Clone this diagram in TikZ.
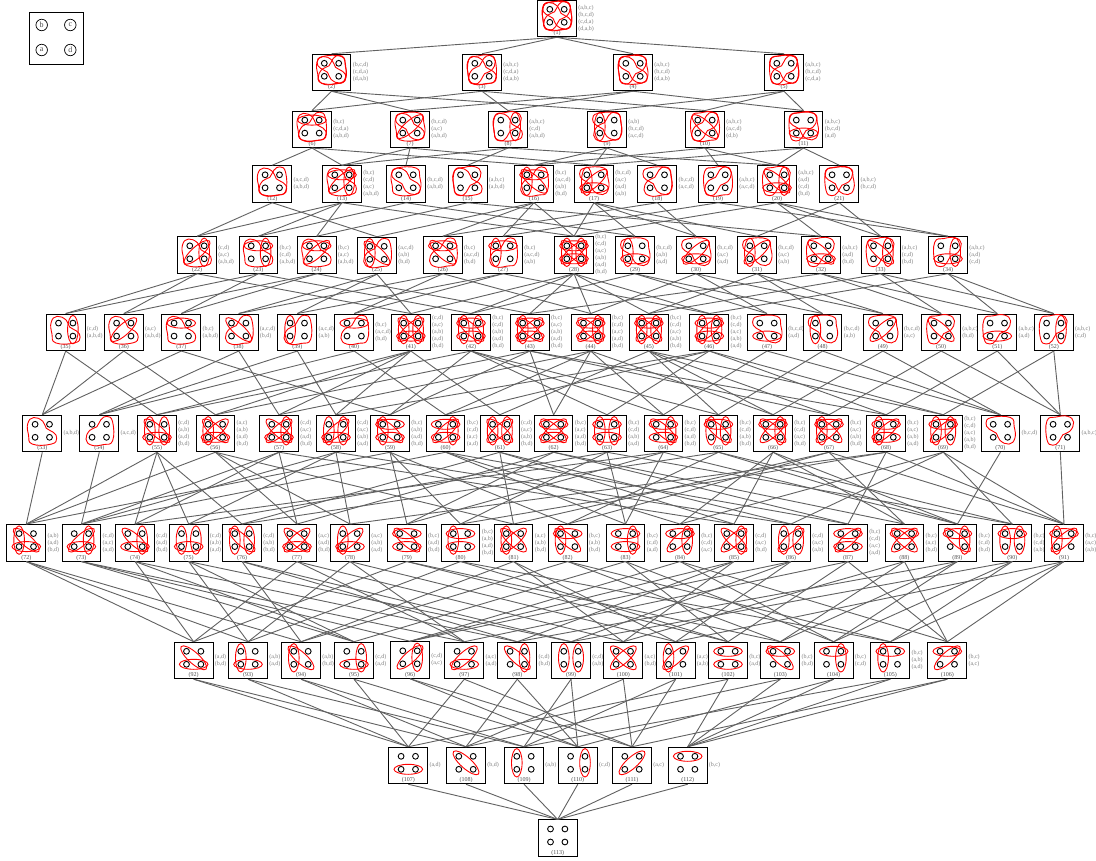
\documentclass[tikz,border=0pt]{standalone}
\usepackage{fontspec}
\setmainfont{Liberation Serif}
\tikzset{
  hbox/.style={draw=black, line width=1pt, minimum width=38.7pt, minimum height=36.5pt, inner sep=0pt},
  numlab/.style={inner sep=0pt, text=black!70, font=\fontsize{6}{7}\selectfont},
  factlab/.style={anchor=west, inner sep=1.2pt, align=left, text=black!50, font=\fontsize{6}{7}\selectfont},
  hedge/.style={draw=red, line width=0.9pt},
  vert/.style={draw=black, line width=0.9pt},
  link/.style={draw=black!62, line width=0.9pt},
  keyvert/.style={draw=black, circle, line width=0.7pt, minimum size=11.5pt, inner sep=0pt, text=black!70, font=\fontsize{8}{8}\selectfont}
}
% edges and triangles, around the middle of the four vertices
\newcommand{\fctab}{\draw[hedge] (-7.2,0) ellipse [x radius=5.3pt, y radius=14.2pt];}
\newcommand{\fctcd}{\draw[hedge] (7.2,0) ellipse [x radius=5.3pt, y radius=14.2pt];}
\newcommand{\fctbc}{\draw[hedge] (0,-6.5) ellipse [x radius=14.3pt, y radius=5pt];}
\newcommand{\fctad}{\draw[hedge] (0,6.5) ellipse [x radius=14.3pt, y radius=5pt];}
\newcommand{\fctbd}{\draw[hedge, rotate=-42] (0,0) ellipse [x radius=16.8pt, y radius=5.5pt];}
\newcommand{\fctac}{\draw[hedge, rotate=42] (0,0) ellipse [x radius=16.8pt, y radius=5.5pt];}
\newcommand{\blob}[1]{\draw[hedge, rotate=#1] plot[smooth cycle, tension=0.8] coordinates {(-8.6,-13.3) (0.5,-9.5) (4,-2.5) (11,1.5) (14.4,7.5) (9,13.3) (-10,13.3) (-13.8,4) (-14.5,-7.3)};}
\newcommand{\fctabd}{\blob{0}}
\newcommand{\fctabc}{\blob{-90}}
\newcommand{\fctbcd}{\blob{180}}
\newcommand{\fctacd}{\blob{90}}
\newcommand{\hnode}[4]{%
  \node[hbox] (n#2) at (#1) {};
  \node[numlab] (c#2) at ([yshift=3.7pt]n#2.south) {(#2)};
  \node[factlab] (f#2) at (n#2.east) {#3};
  \begin{scope}[shift={([yshift=2.7pt]n#2.center)}]
    \foreach \f in {#4} {\csname fct\f\endcsname}
    \foreach \p in {(-7.2,-6.5),(7.2,-6.5),(-7.2,6.5),(7.2,6.5)} {\draw[vert] \p circle (2.9pt);}
  \end{scope}
}
\begin{document}
\begin{tikzpicture}[x=1pt, y=-1pt]
\useasboundingbox (0,0) rectangle (1096,861);
% key of the vertices
\node[draw=black, line width=1pt, minimum width=54.3pt, minimum height=51.7pt, inner sep=0pt] (key) at (56.2,38.2) {};
\node[keyvert] (kb) at (41.7,25) {b};
\node[keyvert] (kc) at (70.3,25) {c};
\node[keyvert] (ka) at (41.7,50) {a};
\node[keyvert] (kd) at (70.3,50) {d};
% rows, top to bottom
\hnode{557,18.5}{1}{(a,b,c)\\(b,c,d)\\(c,d,a)\\(d,a,b)}{abc,bcd,acd,abd}
\hnode{331.5,72.5}{2}{(b,c,d)\\(c,d,a)\\(d,a,b)}{bcd,acd,abd}
\hnode{482,72.5}{3}{(a,b,c)\\(c,d,a)\\(d,a,b)}{abc,acd,abd}
\hnode{633,72.5}{4}{(a,b,c)\\(b,c,d)\\(d,a,b)}{abc,bcd,abd}
\hnode{784,72.5}{5}{(a,b,c)\\(b,c,d)\\(c,d,a)}{abc,bcd,acd}
%
\hnode{312,129.3}{6}{(b,c)\\(c,d,a)\\(a,b,d)}{bc,acd,abd}
\hnode{410,129.3}{7}{(b,c,d)\\(a,c)\\(a,b,d)}{bcd,ac,abd}
\hnode{508,129.3}{8}{(a,b,c)\\(c,d)\\(a,b,d)}{abc,cd,abd}
\hnode{607,129.3}{9}{(a,b)\\(b,c,d)\\(a,c,d)}{ab,bcd,acd}
\hnode{705,129.3}{10}{(a,b,c)\\(a,c,d)\\(d,b)}{abc,acd,bd}
\hnode{803.5,129.3}{11}{(a,b,c)\\(b,c,d)\\(a,d)}{abc,bcd,ad}
%
\hnode{272.3,184}{12}{(a,c,d)\\(a,b,d)}{acd,abd}
\hnode{342,184}{13}{(b,c)\\(c,d)\\(a,c)\\(a,b,d)}{bc,cd,ac,abd}
\hnode{406,184}{14}{(b,c,d)\\(a,b,d)}{bcd,abd}
\hnode{467.7,184}{15}{(a,b,c)\\(a,b,d)}{abc,abd}
\hnode{534,184}{16}{(b,c)\\(a,c,d)\\(a,b)\\(b,d)}{bc,acd,ab,bd}
\hnode{594,184}{17}{(b,c,d)\\(a,c)\\(a,d)\\(a,b)}{bcd,ac,ad,ab}
\hnode{657.3,184}{18}{(b,c,d)\\(a,c,d)}{bcd,acd}
\hnode{718,184}{19}{(a,b,c)\\(a,c,d)}{abc,acd}
\hnode{777,184}{20}{(a,b,c)\\(a,d)\\(c,d)\\(b,d)}{abc,ad,cd,bd}
\hnode{839.3,184}{21}{(a,b,c)\\(b,c,d)}{abc,bcd}
%
\hnode{197,255}{22}{(c,d)\\(a,c)\\(a,b,d)}{cd,ac,abd}
\hnode{258.4,255}{23}{(b,c)\\(c,d)\\(a,b,d)}{bc,cd,abd}
\hnode{316.7,255}{24}{(b,c)\\(a,c)\\(a,b,d)}{bc,ac,abd}
\hnode{377,255.5}{25}{(a,c,d)\\(a,b)\\(b,d)}{acd,ab,bd}
\hnode{442.8,255}{26}{(b,c)\\(a,c,d)\\(b,d)}{bc,acd,bd}
\hnode{503,255}{27}{(b,c)\\(a,c,d)\\(a,b)}{bc,acd,ab}
\hnode{574,255}{28}{(b,c)\\(c,d)\\(a,c)\\(a,b)\\(a,d)\\(b,d)}{bc,cd,ac,ab,ad,bd}
\hnode{635,255}{29}{(b,c,d)\\(a,b)\\(a,d)}{bcd,ab,ad}
\hnode{696,255}{30}{(b,c,d)\\(a,c)\\(a,d)}{bcd,ac,ad}
\hnode{757,255}{31}{(b,c,d)\\(a,c)\\(a,b)}{bcd,ac,ab}
\hnode{821,255}{32}{(a,b,c)\\(a,d)\\(b,d)}{abc,ad,bd}
\hnode{880.7,255}{33}{(a,b,c)\\(c,d)\\(b,d)}{abc,cd,bd}
\hnode{948,255}{34}{(a,b,c)\\(a,d)\\(c,d)}{abc,ad,cd}
%
\hnode{65.7,332.3}{35}{(c,d)\\(a,b,d)}{cd,abd}
\hnode{123.8,332.3}{36}{(a,c)\\(a,b,d)}{ac,abd}
\hnode{181.3,332.3}{37}{(b,c)\\(a,b,d)}{bc,abd}
\hnode{238.7,332.3}{38}{(a,c,d)\\(b,d)}{acd,bd}
\hnode{297.3,332.3}{39}{(a,c,d)\\(a,b)}{acd,ab}
\hnode{354.2,332.3}{40}{(b,c)\\(a,c,d)\\(b,d)}{bc,acd}
\hnode{410.9,332.3}{41}{(c,d)\\(a,c)\\(a,b)\\(a,d)\\(b,d)}{cd,ac,ab,ad,bd}
\hnode{471,332.3}{42}{(b,c)\\(c,d)\\(a,b)\\(a,d)\\(b,d)}{bc,cd,ab,ad,bd}
\hnode{529.9,332.3}{43}{(b,c)\\(a,c)\\(a,b)\\(a,d)\\(b,d)}{bc,ac,ab,ad,bd}
\hnode{590.7,332.3}{44}{(b,c)\\(c,d)\\(a,c)\\(a,d)\\(b,d)}{bc,cd,ac,ad,bd}
\hnode{648.9,332.3}{45}{(b,c)\\(c,d)\\(a,c)\\(a,b)\\(b,d)}{bc,cd,ac,ab,bd}
\hnode{709.3,332.3}{46}{(b,c)\\(c,d)\\(a,c)\\(a,b)\\(a,d)}{bc,cd,ac,ab,ad}
\hnode{767,332.3}{47}{(b,c,d)\\(a,d)}{bcd,ad}
\hnode{822.6,332.3}{48}{(b,c,d)\\(a,b)}{bcd,ab}
\hnode{882.9,332.3}{49}{(b,c,d)\\(a,c)}{bcd,ac}
\hnode{941.2,332.3}{50}{(a,b,c)\\(b,d)}{abc,bd}
\hnode{997.3,332.3}{51}{(a,b,c)\\(a,d)}{abc,ad}
\hnode{1053.8,332.3}{52}{(a,b,c)\\(c,d)}{abc,cd}
%
\hnode{42.3,433.5}{53}{(a,b,d)}{abd}
\hnode{99.3,433.5}{54}{(a,c,d)}{acd}
\hnode{157,433.5}{55}{(c,d)\\(a,b)\\(a,d)\\(b,d)}{cd,ab,ad,bd}
\hnode{215.4,433.5}{56}{(a,c)\\(a,b)\\(a,d)\\(b,d)}{ac,ab,ad,bd}
\hnode{279,433.5}{57}{(c,d)\\(a,c)\\(a,d)\\(b,d)}{cd,ac,ad,bd}
\hnode{336,433.5}{58}{(c,d)\\(a,c)\\(a,b)\\(a,d)}{cd,ac,ab,ad}
\hnode{390,433.5}{59}{(b,c)\\(a,b)\\(a,d)\\(b,d)}{bc,ab,ad,bd}
\hnode{445.6,433.5}{60}{(b,c)\\(c,d)\\(a,c)\\(a,d)}{bc,cd,ac,ad}
\hnode{499.8,433.5}{61}{(c,d)\\(a,c)\\(a,b)\\(b,d)}{cd,ac,ab,bd}
\hnode{553.6,433.5}{62}{(b,c)\\(a,c)\\(a,d)\\(b,d)}{bc,ac,ad,bd}
\hnode{607,433.5}{63}{(b,c)\\(c,d)\\(a,b)\\(a,d)}{bc,cd,ab,ad}
\hnode{663.4,433.5}{64}{(b,c)\\(c,d)\\(a,d)\\(b,d)}{bc,cd,ad,bd}
\hnode{718.4,433.5}{65}{(b,c)\\(c,d)\\(a,b)\\(b,d)}{bc,cd,ab,bd}
\hnode{773,433.5}{66}{(b,c)\\(c,d)\\(a,c)\\(b,d)}{bc,cd,ac,bd}
\hnode{829,433.5}{67}{(b,c)\\(a,c)\\(a,b)\\(b,d)}{bc,ac,ab,bd}
\hnode{886.1,433.5}{68}{(b,c)\\(a,c)\\(a,b)\\(a,d)}{bc,ac,ab,ad}
\hnode{943.2,433.5}{69}{(b,c)\\(c,d)\\(a,c)\\(a,b)\\(b,d)}{bc,cd,ac,ab}
\hnode{1000.4,433.5}{70}{(b,c,d)}{bcd}
\hnode{1060.3,433.5}{71}{(a,b,c)}{abc}
%
\hnode{26.3,542.8}{72}{(a,b)\\(a,d)\\(b,d)}{ab,ad,bd}
\hnode{81.4,542.8}{73}{(c,d)\\(a,c)\\(a,d)}{cd,ac,ad}
\hnode{135,542.8}{74}{(c,d)\\(a,d)\\(b,d)}{cd,ad,bd}
\hnode{188.7,542.8}{75}{(c,d)\\(a,b)\\(a,d)}{cd,ab,ad}
\hnode{242,542.8}{76}{(c,d)\\(a,b)\\(b,d)}{cd,ab,bd}
\hnode{297,542.8}{77}{(a,c)\\(a,d)\\(b,d)}{ac,ad,bd}
\hnode{350,542.8}{78}{(a,c)\\(a,b)\\(a,d)}{ac,ab,ad}
\hnode{406.9,542.8}{79}{(b,c)\\(a,d)\\(b,d)}{bc,ad,bd}
\hnode{460.5,542.8}{80}{(b,c)\\(a,b)\\(a,d)\\(b,d)}{bc,ab,ad}
\hnode{513.5,542.8}{81}{(a,c)\\(a,b)\\(b,d)}{ac,ab,bd}
\hnode{567.7,542.8}{82}{(b,c)\\(a,b)\\(b,d)}{bc,ab,bd}
\hnode{625.5,542.8}{83}{(b,c)\\(c,d)\\(a,d)}{bc,cd,ad}
\hnode{680,542.8}{84}{(b,c)\\(c,d)\\(a,c)}{bc,cd,ac}
\hnode{734,542.8}{85}{(c,d)\\(a,c)\\(b,d)}{cd,ac,bd}
\hnode{791,542.8}{86}{(c,d)\\(a,c)\\(a,b)}{cd,ac,ab}
\hnode{848,542.8}{87}{(b,c)\\(c,d)\\(a,c)\\(a,d)}{bc,ac,ad}
\hnode{904.4,542.8}{88}{(b,c)\\(a,c)\\(b,d)}{bc,ac,bd}
\hnode{957.4,542.8}{89}{(b,c)\\(c,d)\\(b,d)}{bc,cd,bd}
\hnode{1012.3,542.8}{90}{(b,c)\\(c,d)\\(a,b)}{bc,cd,ab}
\hnode{1064,542.8}{91}{(b,c)\\(a,c)\\(a,b)}{bc,ac,ab}
%
\hnode{193.7,660.5}{92}{(a,d)\\(b,d)}{ad,bd}
\hnode{248,660.5}{93}{(a,b)\\(a,d)}{ab,ad}
\hnode{301,660.5}{94}{(a,b)\\(b,d)}{ab,bd}
\hnode{354,660.5}{95}{(c,d)\\(a,d)}{cd,ad}
\hnode{410,660}{96}{(c,d)\\(a,c)}{cd,ac}
\hnode{464.3,660.5}{97}{(a,c)\\(a,d)}{ac,ad}
\hnode{517.3,660.5}{98}{(c,d)\\(b,d)}{cd,bd}
\hnode{571,660.5}{99}{(c,d)\\(a,b)}{cd,ab}
\hnode{623.3,660.5}{100}{(a,c)\\(b,d)}{ac,bd}
\hnode{675.7,660.5}{101}{(a,c)\\(a,b)}{ac,ab}
\hnode{728,660.5}{102}{(b,c)\\(a,d)}{bc,ad}
\hnode{780.3,660.5}{103}{(b,c)\\(b,d)}{bc,bd}
\hnode{833.7,660.5}{104}{(b,c)\\(c,d)}{bc,cd}
\hnode{890.3,660.5}{105}{(b,c)\\(a,b)\\(a,d)}{bc,ab}
\hnode{947.3,660.5}{106}{(b,c)\\(a,c)}{bc,ac}
%
\hnode{408.3,765.5}{107}{(a,d)}{ad}
\hnode{466,765.5}{108}{(b,d)}{bd}
\hnode{524,765.5}{109}{(a,b)}{ab}
\hnode{577.8,765.5}{110}{(c,d)}{cd}
\hnode{632,765.5}{111}{(a,c)}{ac}
\hnode{687.7,765.5}{112}{(b,c)}{bc}
%
\hnode{557.7,838.2}{113}{}{}
% links, each node with those one step below it
\foreach \up/\downs in {1/{2,3,4,5},
  2/{6,7,9},3/{6,8,10},4/{7,8,11},5/{9,10,11},
  6/{12,13,16},7/{13,14,17},8/{13,15,20},9/{16,17,18},10/{16,19,20},11/{17,20,21},
  12/{22,25},13/{22,23,24,28},14/{23,29},15/{24,32},16/{25,26,27,28},17/{28,29,30,31},18/{26,30},19/{27,34},20/{28,32,33,34},21/{31,33},
  22/{35,36,41},23/{35,37,42},24/{36,37,43},25/{38,39,41},26/{38,40,44},27/{39,40,46},28/{41,42,43,44,45,46},29/{42,47,48},30/{44,47,49},31/{45,48,49},32/{43,50,51},33/{45,50,52},34/{46,51,52},
  35/{53,55},36/{53,56},37/{53,59},38/{54,57},39/{54,58},40/{54,60},
  41/{55,56,57,58,61},42/{55,59,63,64,65},43/{56,59,62,67,68},44/{57,60,62,64,66},45/{61,65,66,67,69},46/{58,60,63,68,69},
  47/{64,70},48/{65,70},49/{66,70},50/{67,71},51/{68,71},52/{69,71},
  53/{72},54/{73},70/{89},71/{91},
  55/{72,74,75,76},56/{72,77,78,81},57/{73,74,77,85},58/{73,75,78,86},59/{72,79,80,82},60/{73,83,84,87},61/{76,81,85,86},62/{77,79,87,88},63/{75,80,83,90},64/{74,79,83,89},65/{76,82,89,90},66/{84,85,88,89},67/{81,82,88,91},68/{78,80,87,91},69/{84,86,90,91},
  72/{92,93,94},73/{95,96,97},74/{92,95,98},75/{93,95,99},76/{94,98,99},77/{92,97,100},78/{93,97,101},79/{92,102,103},80/{93,102,105},81/{94,100,101},82/{94,103,105},83/{95,102,104},84/{96,104,106},85/{96,98,100},86/{96,99,101},87/{97,102,106},88/{100,103,106},89/{98,103,104},90/{99,104,105},91/{101,105,106},
  92/{107,108},93/{107,109},94/{108,109},95/{107,110},96/{110,111},97/{107,111},98/{108,110},99/{109,110},100/{108,111},101/{109,111},102/{107,112},103/{108,112},104/{110,112},105/{109,112},106/{111,112},
  107/{113},108/{113},109/{113},110/{113},111/{113},112/{113}}
  \foreach \down in \downs
    \draw[link] (n\up.south) -- (n\down.north);
\end{tikzpicture}
\end{document}
